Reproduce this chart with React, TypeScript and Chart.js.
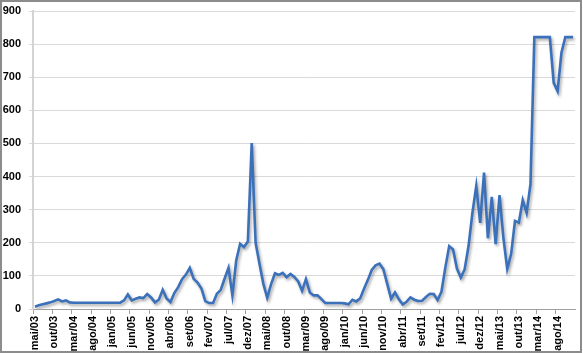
import React, { useEffect, useRef } from 'react';
import { Chart, registerables } from 'chart.js';

Chart.register(...registerables);

// Month names (pt-BR) used to build the monthly categories mai/03 .. dez/14
const MONTH_NAMES = ['jan', 'fev', 'mar', 'abr', 'mai', 'jun', 'jul', 'ago', 'set', 'out', 'nov', 'dez'];
const START_YEAR = 2003;
const START_MONTH_INDEX = 4; // mai

// Series values, one per month (mai/03 .. dez/14)
const values2003 = [7, 11, 14, 17, 20, 24, 29, 23];
const values2004 = [26, 20, 19, 19, 19, 19, 19, 19, 19, 19, 19, 19];
const values2005 = [19, 19, 19, 26, 44, 26, 31, 35, 33, 45, 35, 20];
const values2006 = [28, 58, 32, 21, 48, 66, 90, 104, 124, 91, 80, 62];
const values2007 = [24, 18, 18, 46, 58, 92, 124, 41, 147, 197, 187, 204];
const values2008 = [501, 200, 137, 76, 34, 75, 108, 103, 109, 96, 106, 97];
const values2009 = [83, 55, 90, 50, 41, 41, 30, 18, 18, 18, 18, 18];
const values2010 = [17, 14, 28, 23, 32, 61, 88, 118, 132, 137, 120, 76];
const values2011 = [31, 50, 29, 14, 22, 35, 28, 24, 25, 36, 46, 45];
const values2012 = [27, 52, 125, 190, 180, 122, 95, 120, 190, 290, 372, 260];
const values2013 = [412, 214, 339, 196, 344, 215, 121, 166, 266, 261, 329, 290];
const values2014 = [377, 821, 821, 821, 821, 821, 683, 658, 774, 821, 821, 821];

const seriesValues = [
  ...values2003, ...values2004, ...values2005, ...values2006,
  ...values2007, ...values2008, ...values2009, ...values2010,
  ...values2011, ...values2012, ...values2013, ...values2014,
];

const categories: string[] = seriesValues.map((_, i) => {
  const m = (START_MONTH_INDEX + i) % 12;
  const y = START_YEAR + Math.floor((START_MONTH_INDEX + i) / 12);
  return `${MONTH_NAMES[m]}/${String(y % 100).padStart(2, '0')}`;
});

// Labels shown on the x axis
const tickLabels = [
  'mai/03', 'out/03', 'mar/04', 'ago/04', 'jan/05', 'jun/05', 'nov/05', 'abr/06', 'set/06', 'fev/07',
  'jul/07', 'dez/07', 'mai/08', 'out/08', 'mar/09', 'ago/09', 'jan/10', 'jun/10', 'nov/10', 'abr/11',
  'set/11', 'fev/12', 'jul/12', 'dez/12', 'mai/13', 'out/13', 'mar/14', 'ago/14',
];

const Y_MIN = 0;
const Y_MAX = 900;
const Y_STEP = 100;

const FONT_FAMILY = "'Liberation Sans Narrow', 'Arial Narrow', 'Liberation Sans', Arial, sans-serif";

const shadowPlugin = {
  id: 'lineShadow',
  beforeDatasetDraw(chart: any) {
    const c = chart.ctx;
    c.save();
    c.shadowColor = 'rgba(0,0,0,0.35)';
    c.shadowBlur = 3;
    c.shadowOffsetX = 1.5;
    c.shadowOffsetY = 2;
  },
  afterDatasetDraw(chart: any) {
    chart.ctx.restore();
  },
};

export default function App() {
  const canvasRef = useRef<HTMLCanvasElement | null>(null);

  useEffect(() => {
    if (!canvasRef.current) return;
    const chart = new Chart(canvasRef.current, {
      type: 'line',
      data: {
        labels: categories,
        datasets: [
          {
            data: seriesValues,
            borderColor: '#3B70BA',
            borderWidth: 2.6,
            pointRadius: 0,
            tension: 0,
            fill: false,
          },
        ],
      },
      options: {
        responsive: false,
        animation: false,
        maintainAspectRatio: false,
        layout: { padding: { top: 11, right: 8, left: 0, bottom: 0 } },
        plugins: {
          legend: { display: false },
          tooltip: { enabled: false },
        },
        scales: {
          x: {
            type: 'category',
            offset: true,
            grid: {
              offset: true,
              drawOnChartArea: false,
              drawTicks: true,
              tickLength: 5,
              color: (ctx: any) => {
                const idx = ctx.index;
                if (idx === categories.length) return '#A0A0A0';
                return tickLabels.includes(categories[idx]) ? '#A0A0A0' : 'rgba(0,0,0,0)';
              },
            },
            border: { display: true, color: '#A0A0A0', width: 1 },
            ticks: {
              autoSkip: false,
              maxRotation: 90,
              minRotation: 90,
              padding: 2,
              color: '#000',
              font: { family: FONT_FAMILY, size: 11, weight: 'bold' },
              callback: (_v: any, index: number) =>
                tickLabels.includes(categories[index]) ? categories[index] : '',
            },
            afterFit: (scale: any) => {
              scale.height = 44;
              scale.paddingLeft = 0;
              scale.paddingRight = 0;
            },
          },
          y: {
            min: Y_MIN,
            max: Y_MAX,
            grid: {
              color: '#D9D9D9',
              lineWidth: 1,
              drawTicks: true,
              tickLength: 4,
            },
            border: { display: true, color: '#D4D4D4', width: 2 },
            ticks: {
              stepSize: Y_STEP,
              padding: 8,
              color: '#000',
              font: { family: FONT_FAMILY, size: 11, weight: 'bold' },
            },
            afterFit: (scale: any) => {
              scale.width = 33;
              scale.paddingTop = 0;
              scale.paddingBottom = 0;
            },
          },
        },
      },
      plugins: [shadowPlugin],
    });
    return () => chart.destroy();
  }, []);

  return (
    <div style={{ position: 'absolute', left: 0, top: 0, width: 583, height: 353, background: '#fff' }}>
      <canvas ref={canvasRef} width={583} height={353} style={{ position: 'absolute', left: 0, top: 0 }} />
      <div
        style={{
          position: 'absolute',
          left: 0,
          top: 0,
          width: 582,
          height: 353,
          boxSizing: 'border-box',
          border: '2px solid #8C8C8C',
          pointerEvents: 'none',
        }}
      />
    </div>
  );
}
